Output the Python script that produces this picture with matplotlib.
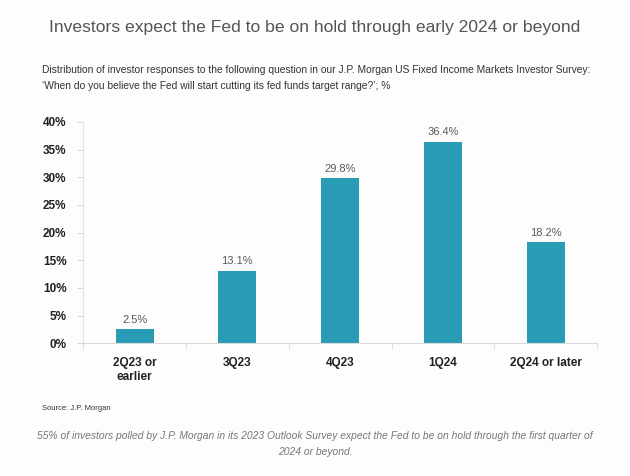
import matplotlib
matplotlib.use('Agg')
import matplotlib.pyplot as plt

plt.rcParams['font.family'] = ['Liberation Sans', 'DejaVu Sans']

categories = ['2Q23 or\nearlier', '3Q23', '4Q23', '1Q24', '2Q24 or later']
values = [2.5, 13.1, 29.8, 36.4, 18.2]
yticks = [0, 5, 10, 15, 20, 25, 30, 35, 40]

bar_color = '#2a9bb5'
grey = '#5a5a5a'

fig = plt.figure(figsize=(6.3, 4.76), dpi=100, facecolor='#fdfdfd')
ax = fig.add_axes([0.132, 0.279, 0.816, 0.465], facecolor='#fdfdfd')

x = list(range(len(categories)))
bars = ax.bar(x, values, width=0.37, color=bar_color)
for xi, v in zip(x, values):
    ax.text(xi, v + 0.8, '%.1f%%' % v, ha='center', va='bottom', fontsize=8, color=grey)

ax.set_xlim(-0.5, len(categories) - 0.5)
ax.set_ylim(0, 40)
ax.set_yticks(yticks)
ax.set_yticklabels(['%d%%' % t for t in yticks], fontsize=8.5, fontweight='bold', color='#222222')

ax.set_xticks(x)
ax.set_xticklabels(categories, fontsize=8.5, fontweight='bold', color='#222222')
ax.tick_params(axis='x', length=0, pad=10)
ax.tick_params(axis='y', length=4, color='#d9d9d9', pad=8)
# boundary ticks below the x axis
ax.set_xticks([i - 0.5 for i in range(len(categories) + 1)], minor=True)
ax.tick_params(axis='x', which='minor', length=4, color='#d9d9d9')

for s in ['top', 'right']:
    ax.spines[s].set_visible(False)
ax.spines['left'].set_color('#e3e3e3')
ax.spines['bottom'].set_color('#d9d9d9')

fig.text(0.5, 0.943, 'Investors expect the Fed to be on hold through early 2024 or beyond',
         ha='center', va='center', fontsize=12.6, color='#555555')
fig.text(0.067, 0.853, 'Distribution of investor responses to the following question in our J.P. Morgan US Fixed Income Markets Investor Survey:',
         ha='left', va='center', fontsize=7.4, color='#333333')
fig.text(0.067, 0.819, '\u2018When do you believe the Fed will start cutting its fed funds target range?\u2019; %',
         ha='left', va='center', fontsize=7.4, color='#333333')
fig.text(0.067, 0.141, 'Source: J.P. Morgan', ha='left', va='center', fontsize=5.5, color='#333333')
fig.text(0.5, 0.084, '55% of investors polled by J.P. Morgan in its 2023 Outlook Survey expect the Fed to be on hold through the first quarter of',
         ha='center', va='center', fontsize=7.4, color='#777777', style='italic')
fig.text(0.5, 0.050, '2024 or beyond.', ha='center', va='center', fontsize=7.4, color='#777777', style='italic')

fig.savefig('out.png', dpi=100, facecolor=fig.get_facecolor())
